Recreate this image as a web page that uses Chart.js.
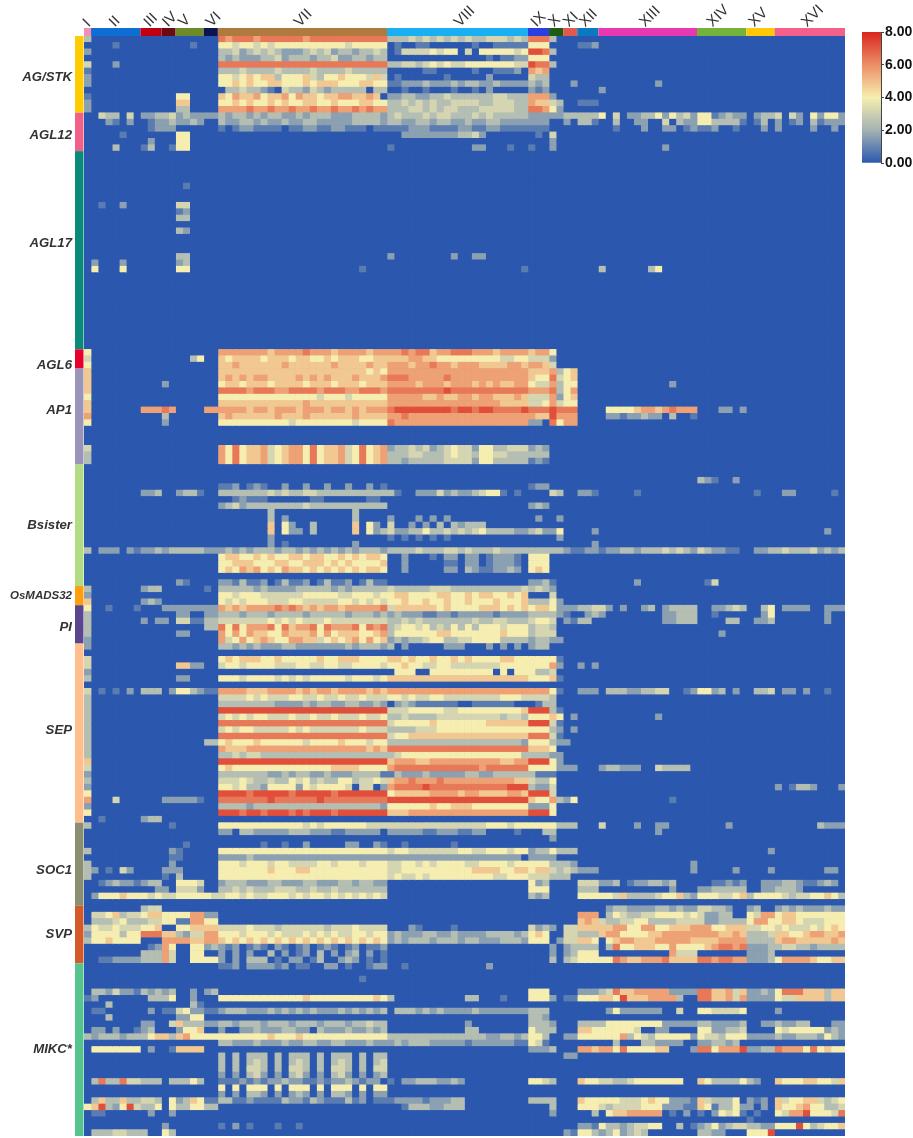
<!DOCTYPE html>
<html>
<head>
<meta charset="utf-8">
<title>MADS-box expression heatmap</title>
<script src="https://cdn.jsdelivr.net/npm/chart.js@4/dist/chart.umd.js"></script>
<style>
  html, body { margin: 0; padding: 0; background: #fff; }
  #wrap { position: relative; width: 913px; height: 1138px; overflow: hidden; }
  #heat { position: absolute; left: 0; top: 0; filter: blur(0.45px); }
  #scale { position: absolute; left: 855px; top: 20px; }
</style>
</head>
<body>
<div id="wrap">
  <canvas id="heat" width="913" height="1138"></canvas>
  <canvas id="scale" width="58" height="155"></canvas>
</div>
<script>
// clades along the top
const cladeNames = ['I','II','III','IV','V','VI','VII','VIII','IX','X','XI','XII','XIII','XIV','XV','XVI'];
const cladeSizes = [1,7,3,2,4,2,24,20,3,2,2,3,14,7,4,10];
const cladeColors = ['#f48fb1','#0f6ed4','#c00012','#6a0a12','#6f8a2a','#0a1550','#b07a3e','#18b0f2','#2a3fe0','#1e5c14','#e2584a','#0a7ac0','#e838b0','#74b23c','#ffca05','#f4608c'];
const cladeTickAt = [2.03,5.76,10.67,13.3,15.6,19.5,32,54.7,65.6,68.1,70.2,72.5,81,90.6,96.5,104];

// families down the side
const familyNames = ['AG/STK','AGL12','AGL17','AGL6','AP1','Bsister','OsMADS32','PI','SEP','SOC1','SVP','MIKC*'];
const familyColors = ['#ffcc00','#f06088','#0a8a78','#e8002a','#9a95b8','#b2dc82','#ff9f10','#5a4590','#ffbe8c','#8a8f72','#d45a2a','#55c48e'];
const familyLabelRow = [6,15,32,51,58,76,87,92,108,130,140,158];

// colour scale
const scaleStops = [0,2,4,6,8];
const scaleColors = ['#2b58ae','#a3b2b2','#f6eeb0','#ec8e66','#d9251f'];
const scaleTicks = [0,2,4,6,8];

// one string per row, split by clade, one digit per sample (value = digit x 0.8),
// a short piece is filled up with zeros
const agStk = [
'3 0 0 0 0 0 878887888888788888888888 33343434343433444343 888 3',
'0 0001 0 0 001 0 554554545555555555455555 01001100000010011111 555 0 0 112',
'2 0 0 0 0 0 334234343222343423323343 01444454550405555545 998 3',
'0 0 0 0 0 0 323222334233323342233233 00000000000000101122 555',
'4 0002 0 0 0 0 888888888888888888888888 33443454544555555544 988 3',
'1 0 0 0 0 0 333433334333343333433333 00000110000010011120 767',
'2 0 0 0 0 0 554565663555643556555464 01000000100000200000 433',
'2 0 0 0 0 0 556565566555656665556655 11222322232332232222 323 0 02 0 000000002',
'0 0 0 0 0 0 033433210433243233333033 00100100010010200000 212 0 0 0 2',
'1 0 0 0 55 0 657667566757665667766760 22332233433333344333 777 2',
'2 0 0 0 66 0 556565565655665565556655 33434343344443344433 766 43 0 111',
'2 0 0 0 33 0 777787787787787787787877 33344343443334444433 887 52'
];
const agl12 = [
'0 0433040 223 34 2322 22 323323233223233322233332 34333434433343433333 222 22 33 333 50402233525342 5512322 0233 4042052552',
'0 0021020 012 23 2232 00 322332322322332222233332 33223323322322332222 222 00 20 331 00300220040322 5533331 0130 2012031222',
'0 0 012 22 0 0 101221111011221122111011 11122211112211221111 111 00 0 0 00100020022012 1120010 0020 2000020020',
'0 00001 0 0 55 0 0 00222222223342000000 010 4 0 0',
'0 0 020 0 55 0 0 00000000000000000000 000 2',
'0 00030 13 01 55 0 0 10000000000022000100 100 2 0 0 00000000020000'
];
const agl17 = [
'','','','','',
'0 0 0 0 01',
'','',
'0 0100200 0 0 44',
'0 0 0 0 12',
'0 0 0 0 33',
'',
'0 0 0 0 32',
'','','',
'0 0 0 0 33 0 0 20000000020022',
'0 2000200 0 0 23',
'0 5000500 0 0 55 0 000000000000000000001 00000000000000000001 0 0 0 000 30000003500000',
'','','','','','','','','','','',''
];
const agl6 = [
'5 0 0 0 0 0 777777767777877767777677 77878867788877767777 677 5',
'4 0 0 0 0035 0 656666566656655656665566 66677665555555554455 444 2',
'5 0 0 0 0 0 667666666766666676666766 77767787767776666776 776 4'
];
const ap1 = [
'6 0 0 0 0 0 666666666666666666666565 77777777777777777777 666 73 56',
'6 0 0 0 0 0 676767766667676766676667 88877777877777777777 655 84 56',
'6 0 0 20 0 0 566566656666566656665666 77776777677767676677 544 73 55 0 00000000002',
'6 0 0 0 0 0 888878887788887888778887 88888888988888888888 777 83 57',
'5 0 0 0 0 0 555555555555554555455555 77777667667767766676 444 72 56',
'6 0 0 0 0 0 666666666666766666666666 77777777777777776666 445 74 55',
'6 0 777 87 0 77 777767767776777677676777 89999999989989988889 888 98 88 0 05555677678777 0002202',
'7 0 0 30 0 0 676666667666766666676666 77877777777777777777 766 97 77 0 02212232203001',
'5 0 0 20 0 0 555555555545555555545555 87777777777777777777 220 85 77',
'','','',
'4 0 0 0 0 0 758566745677585667458567 23343423454425533444 232',
'3 0 0 0 0 0 758566745677585667458567 33344333454435544333 333',
'3 0 0 0 0 0 758566745677585667458567 33233333444425533333 121'
];
const bsister = [
'','',
'0 0 0 0 0 0 0 0 0 0 0 0 0 3210020',
'0 0 0 0 0 0 112012100200200200200201 00000000000000000000 122',
'0 0 223 0 2331 0 333333343433443333333333 31002224232234551010 000 43 0 221 00000100000000 0000000 0100 0220000010',
'0 0 0 0 0 0 001211100000011000000110',
'0 0 0 0 0 0 234233333333433333333333 00000000000000000000 232',
'0 0 0 0 0 0 000000030000000000030000',
'0 0 0 0 0 0 000000030200000000030000 20002020200000000000 020 02',
'0 0 0 0 0 0 000000060520030000060520 40020203032333000000 000 00',
'0 0 0 0 0 0 000000060522030000060523 42233533434345333322 342 25 0 002 00000000000000 0000000 0000 0000000200',
'0 0 0 0 0 0 000000020000000000000000 10101010100000000000 000 02',
'0 0 0 0 0 0 000000020100000000020000 00000000000000000000 000 00 0 002',
'3 0222021 223 23 3333 22 232323332332323232323332 33334333443433343333 333 33 21 122 12233233343432 4322110 0223 3433342323',
'0 0 0 0 0 0 566556565566566556565665 00200010220220122210 555',
'0 0 0 0 0 0 556665556655666565655556 00200000110220122210 555',
'0 0 0 0 0 0 565767565766565656565665 00200000220321122320 565',
'',
'0 0 0 0 21 0 221311201311201311201311 00000000000000000000 223 10 0 0 00000200000000 0140000'
];
const osmads32 = [
'3 0 233 0 0 10 333332322223333323233333 43333344433333333334 343 2',
'2 0 0 0 0 0 554555444444555554455545 56655556655656655656 000 40',
'6 0 232 0 0 0 545455544455444445545454 55655655655655565556 333 52'
];
const pi = [
'5 0010001 0 22 2222 22 767677778787676776777778 46666665655556665656 566 52 22 334 42020023023333 0022343 0035 0222200222',
'3 0 0 0 22 22 333233323333233333233323 23222112212222212222 333 32 10 023 20000000022333 0010000 0025 0000000200',
'3 0 202 20 4411 33 444444454545444544444444 33434333333343344333 455 40 21 330 00000000022333 0000330 0223 0000000200',
'3 0 0 0 0 33 858577785867785877785878 34554534353535554555 344 3',
'3 0 0 0 22 0 757576655766675756665567 35555556655555556555 344 40 0 0 0 0002000',
'2 0 0 0 0 0 745756765577664565675756 23233455334455553333 233 22'
];
const sep = [
'2 0 0 0 0 0 332323222332222222323332 30200000222000202020 233',
'',
'4 0 0 0 0 0 565666556555556556665555 66565565565655556655 555 51',
'4 0 0 0 6622 0 455455554445544554455554 55655445544444445555 555 72 0 202',
'2 0 0 0 0 0 000000000000000000000000 05550055555555505055 533 40',
'3 0 0 0 22 0 555455554545455555455545 66666666666666666666 555 61',
'',
'4 0101020 333 02 5532 11 777766677776767767777676 77777777777777777777 777 51 00 222 03332233440012 5523020 0334 0220200100',
'3 0 0 0 0 0 444454544455445445445444 55454455444444445554 444 30',
'3 0 0 0 0 0 333333332222323322332232 02321111110011111100 013 30',
'3 0 0 0 0 0 999999999999999999999999 44455555445555555556 999 31',
'3 0 0 0 0 0 454545544454454454445445 33433334444444443443 555 65 02 0 00000000200000',
'3 0 0 0 0 0 888888888888888888888888 45555565555555666666 999 41',
'3 0 0 0 0 0 454554444454544444445444 33334445555555555555 555 32 02',
'3 0 0 0 0 0 888888888888888888888888 45566666666666666666 888 41',
'3 0 0 0 0 33 565556555555455556555455 33333333333333333332 555 32 2',
'3 0 0 0 0 0 766677777777777777777676 88888888888888888888 666 5',
'3 0 0 0 0 0 334344333333333333333333 34555555555555555553 333 22',
'6 0 0 0 0 0 999999999999999999999999 67776677777777776677 999 52',
'4 0 0 0 0 0 565555555555555566665555 78888888888887888888 555 52 22 0 23322200433330',
'2 0 0 0 0 0 333333322323322322233331 13222322222332233333 311 10',
'3 0 0 0 0 0 444543343354534335534454 67787778777777777766 433 5',
'2 0 0 0 0 0 554533255552545555404402 78888988888888888999 322 40 0 0 0 0 0 2013320002',
'5 0 0 0 0 0 999989999989999989999999 56666677776776666776 999 4',
'7 0004000 0 22 2221 0 888888898888889888888888 99999999999999999999 655 73 25 0 00000000001000',
'2 0 0 0 0 0 333323333333333333333332 55555565566655555555 222 5',
'5 0 0 0 0 0 999899899989899989999999 66677777777777777777 999 5',
'0 0100000 233'
];
const soc1 = [
'3 0 0 012 0 0 555555555555454555555444 44444444444444555455 555 53 33 0 40000200220000 0000200 0000 0000003222',
'0 0 0 0 0 0 220332222233322211222220 22222112221122000010 003 30 0 0 00000000200000',
'0 0 0 0 0 0 0 0 0 20',
'0 0 0 0 01 0 000000100100200000220021 00100000010000000000',
'3 0 0 02 1 0 555555555555555555555555 45544444445544555455 233 53 33 0 0 0 0002 0',
'0 0 0 01 1 0 222232222222222222222222 22222222222222222220 222 2',
'3 0 0 02 0 0 555455545544445545554555 44554545555445555455 555 33 32 0 00000000000002',
'3 2010420 0 22 2 0 555555565556655555555555 44555555555566665566 566 43 43 222 00000000000002 0000020 0002 0000000220',
'3 0 0 10 3 0 555555555555555555555555 45445455555555544555 444 33 3',
'0 0123221 233 0 5554 0 233322233222332223323322 00000000000000000000 523 0 0 444 22301223323000 0011212 0022 2332112320',
'0 0 002 20 4442 0 334343334443343343333333 00000000000000000000 555 0 0 333 00000000002000 2233333 0022 3332000000',
'0 2555655 545 44 5555 54 455454455545455454545454 00000000000000000000 323 0 0 555 55463333455632 5554456 3555 5434455653',
''
];
const svp = [
'0 0 344 0 0 0 0 0 0 0 0 0 02332222332322 4433200 2300 2323222322',
'0 4456344 566 55 5577 22 0 0 0 0 0 777 03543344555545 4223300 5477 5665555555',
'0 3334533 344 55 1177 55 0 0 0 0 0 676 43344553333444 4223333 5775 5665444555',
'3 5445444 556 00 5566 66 444454443444444344454444 00021000010000000000 423 20 44 666 66775577556667 7755666 4455 4544454565',
'2 5555355 888 66 3244 77 555455545444545454455455 23222332232222333323 565 00 44 333 67755556677777 7776676 3334 6655677667',
'3 5565555 000 77 7766 77 656565656565656565656565 23233323332332223332 555 02 44 665 05677666777776 6667777 3333 6776666676',
'0 0 012 75 0055 23 212012102101201210120112 00000000000000000000 000 20 23 333 03855666557555 5678878 2223 3443323333',
'0 0 333 74 0055 00 202020030201203020230201 00000000000000000000 000 20 23 555 00000000007444 0000000 2223',
'0 0112222 333 74 0055 55 202033301022013002320101 00000000000000000000 000 30 34 555 55876677786666 8878877 2223 5777765566'
];
const mikc = [
'0 0 0 0 0 0 112022221201100220100122 00100000000000200000',
'',
'0 0 0 0 0 0 000000000000000000001000',
'',
'0 3324221 323 23 0020 23 0 0 555 0 0 222 34866777772222 8866746 2232 5888666366',
'1 2000000 033 35 0020 0 555555555555655555555565 30000000000330001000 555 20 11 555 66596667777300 8866747 2222 5446666366',
'0 0030000 0 0 0031',
'0 1100000 020 11 4522 11 233322232323232223232323 03332323222232222222 333 0 0 0 02522222200400 5544445 0000 2000000000',
'0 0030000 0 0 2255 0 0 0 332',
'0 0 220 04 6333 22 332333233323332333233433 00000000000200000000 333 20 0 333 35555555522222 3322223 0022 3223300022',
'0 2202001 230 00 2556 00 200223222332203222322323 00000000000330000000 533 30 0 665 55555400220000 5522334 0000 5455555232',
'3 2333233 356 63 6755 55 555555565556555555555555 33333333333333223323 553 00 22 555 55573543555552 5443555 2222 3223332532',
'0 0 0 0 0 0 332223222322332233222322 23233322222122222211 541 0 0 000 00300033222200 2233230 0000 0000000000',
'0 5555555 020 01 6666 0 0 0 222 30 0 776 77585555660002 8857779 2233 8777585655',
'0 0 0 0 0 0 303033303033303033303033 0 0 0 22',
'0 0 0 0 0 0 303034303034303034303034',
'0 0 0 0 0 0 303044303044303044303044',
'0 0 0 0 0 0 202034202034202034202023',
'0 3833844 333 03 3353 00 111212122322112122321220 10223332232 554 30 0 655 44334555555500 6533335 3200 6555665546',
'0 0 0 0 0 0 505055505055505055505055',
'0 0 0 0 0 0 202033202023202033202022',
'0 3633633 443 05 2365 11 331121111322132111312011 12222122233 333 30 0 655 55544456552221 6433350 2120 6455664345',
'5 6932594 335 05 3355 33 0 00133322333 000 30 0 555 43444455522211 6513352 2020 6556755334',
'0 1100000 020 02 0 0 0 0 0 20 0 003 05667777701020 1025451 0100 5477955548',
'0 0 0 0 0 0 0 0 0 0 0 0 0 0 1',
'0 0 0 20 0 0 102010001001000000000000 0 0 0 0 221 53323445500301 2352344 3322 5559534556',
'0 3334433 300 53 0 0 0 0 0 0 212 55345435500000 2352343 3322 5559444556'
];

const allRows = [].concat(agStk, agl12, agl17, agl6, ap1, bsister, osmads32, pi, sep, soc1, svp, mikc);
const familySizes = [agStk, agl12, agl17, agl6, ap1, bsister, osmads32, pi, sep, soc1, svp, mikc].map(f => f.length);

// turn a row string into 108 values
function parseRow(str) {
  const parts = str.split(' ');
  let out = [];
  cladeSizes.forEach((n, i) => {
    const s = (parts[i] || '').slice(0, n).padEnd(n, '0');
    for (const ch of s) out.push(Number(ch) * 0.8);
  });
  return out;
}
const matrix = allRows.map(parseRow);
const nCols = cladeSizes.reduce((a, b) => a + b, 0);

function hexRgb(h) {
  return [1, 3, 5].map(i => parseInt(h.substr(i, 2), 16));
}
function colorFor(v) {
  let i = 0;
  while (i < scaleStops.length - 2 && v > scaleStops[i + 1]) i++;
  const t = (v - scaleStops[i]) / (scaleStops[i + 1] - scaleStops[i]);
  const a = hexRgb(scaleColors[i]), b = hexRgb(scaleColors[i + 1]);
  return 'rgb(' + a.map((c, k) => Math.round(c + (b[k] - c) * t)).join(',') + ')';
}

// every sample is one stacked piece of width 1 on its row
const rowLabels = allRows.map(() => '');
familyLabelRow.forEach((r, i) => { rowLabels[r] = familyNames[i]; });
const datasets = [];
for (let c = 0; c < nCols; c++) {
  datasets.push({
    data: matrix.map(() => 1),
    backgroundColor: matrix.map(row => colorFor(row[c])),
    barPercentage: 1,
    categoryPercentage: 1,
    borderWidth: 0
  });
}

// clade strip on top and family strip on the left, placed with the scales
const stripsPlugin = {
  id: 'strips',
  beforeDatasetsDraw(chart) {
    const {ctx, chartArea} = chart;
    ctx.save();
    ctx.fillStyle = scaleColors[0];
    ctx.fillRect(chartArea.left, chartArea.top, chartArea.width, chartArea.height);
    ctx.restore();
  },
  afterDatasetsDraw(chart) {
    const {ctx, chartArea, scales} = chart;
    ctx.save();
    let start = 0;
    cladeSizes.forEach((n, i) => {
      const x0 = scales.x.getPixelForValue(start);
      const x1 = scales.x.getPixelForValue(start + n);
      ctx.fillStyle = cladeColors[i];
      ctx.fillRect(x0, chartArea.top - 8, x1 - x0, 8);
      start += n;
    });
    start = 0;
    familySizes.forEach((n, i) => {
      const y0 = scales.y.getPixelForValue(start - 0.5);
      const y1 = scales.y.getPixelForValue(start + n - 0.5);
      ctx.fillStyle = familyColors[i];
      ctx.fillRect(chartArea.left - 9, y0, 8.5, y1 - y0);
      start += n;
    });
    ctx.restore();
  }
};

new Chart(document.getElementById('heat'), {
  type: 'bar',
  data: { labels: rowLabels, datasets: datasets },
  plugins: [stripsPlugin],
  options: {
    indexAxis: 'y',
    responsive: false,
    animation: false,
    events: [],
    layout: { autoPadding: false, padding: { right: 68, bottom: 2 } },
    plugins: { legend: { display: false }, tooltip: { enabled: false } },
    scales: {
      x: {
        type: 'linear',
        position: 'top',
        stacked: true,
        min: 0,
        max: nCols,
        grid: { display: false, drawTicks: false },
        border: { display: false },
        afterFit: s => {
          s.height = 36;
          s.paddingLeft = 0;
          s.paddingRight = 0;
          s.paddingTop = 0;
          s.paddingBottom = 0;
        },
        afterBuildTicks: s => { s.ticks = cladeTickAt.map(v => ({ value: v })); },
        ticks: {
          autoSkip: false,
          minRotation: 45,
          maxRotation: 45,
          padding: 5,
          color: '#333',
          font: { family: 'Liberation Sans', size: 15 },
          callback: (v, i) => cladeNames[i]
        }
      },
      y: {
        type: 'category',
        stacked: true,
        grid: { display: false, drawTicks: false },
        border: { display: false },
        afterFit: s => {
          s.width = 84;
          s.paddingTop = 0;
          s.paddingBottom = 0;
        },
        ticks: {
          autoSkip: false,
          padding: 12,
          color: '#333',
          font: ctx => ({
            family: 'Liberation Sans',
            size: ctx.tick && ctx.tick.label === 'OsMADS32' ? 11.5 : 13.2,
            weight: 'bold',
            style: 'italic'
          })
        }
      }
    }
  }
});

// colour bar, its own small chart
new Chart(document.getElementById('scale'), {
  type: 'bar',
  data: {
    labels: [''],
    datasets: [{
      data: [scaleStops[scaleStops.length - 1]],
      barPercentage: 1,
      categoryPercentage: 1,
      backgroundColor: ctx => {
        const a = ctx.chart.chartArea;
        if (!a) return scaleColors[0];
        const g = ctx.chart.ctx.createLinearGradient(0, a.bottom, 0, a.top);
        scaleStops.forEach((s, i) => g.addColorStop(s / 8, scaleColors[i]));
        return g;
      }
    }]
  },
  options: {
    responsive: false,
    animation: false,
    events: [],
    layout: { autoPadding: false, padding: { left: 7, top: 12, bottom: 12 } },
    plugins: { legend: { display: false }, tooltip: { enabled: false } },
    scales: {
      x: { display: false },
      y: {
        position: 'right',
        min: 0,
        max: 8,
        afterFit: s => { s.width = 32; },
        afterBuildTicks: s => { s.ticks = scaleTicks.map(v => ({ value: v })); },
        grid: { drawOnChartArea: false, color: '#444', tickLength: 3 },
        border: { color: '#444' },
        ticks: {
          padding: 1,
          color: '#111',
          font: { family: 'Liberation Sans', size: 14, weight: 'bold' },
          callback: v => v.toFixed(2)
        }
      }
    }
  }
});
</script>
</body>
</html>
